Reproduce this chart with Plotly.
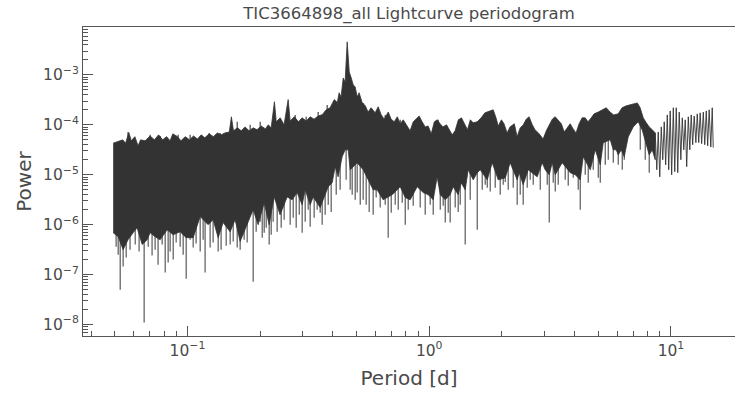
import plotly.graph_objects as go

# ---- data ----
title_text = "TIC3664898_all Lightcurve periodogram"

# upper envelope of the dense periodogram band: (period [d], power)
upper_envelope = [
    (0.0493, 4.3e-5), (0.0517, 4.6e-5), (0.054, 5.0e-5), (0.0555, 4.3e-5), (0.0572, 7.0e-5),
    (0.0586, 4.8e-5), (0.0606, 5.8e-5), (0.0625, 3.8e-5), (0.064, 5.0e-5), (0.0668, 4.8e-5),
    (0.0701, 6.0e-5), (0.073, 5.0e-5), (0.076, 6.3e-5), (0.079, 5.0e-5), (0.082, 5.8e-5),
    (0.0848, 4.8e-5), (0.087, 6.6e-5), (0.091, 5.8e-5), (0.094, 4.8e-5), (0.098, 5.8e-5),
    (0.102, 5.0e-5), (0.106, 6.0e-5), (0.110, 5.2e-5), (0.114, 6.3e-5), (0.118, 5.5e-5),
    (0.123, 6.6e-5), (0.128, 5.8e-5), (0.133, 6.9e-5), (0.138, 6.3e-5), (0.143, 6.9e-5),
    (0.149, 7.2e-5), (0.152, 1.45e-4), (0.155, 7.6e-5), (0.161, 8.7e-5), (0.167, 7.6e-5),
    (0.173, 9.1e-5), (0.180, 7.6e-5), (0.187, 8.7e-5), (0.194, 8.0e-5), (0.202, 9.5e-5),
    (0.210, 8.3e-5), (0.216, 1.0e-4), (0.222, 8.7e-5), (0.229, 2.9e-4), (0.233, 1.15e-4),
    (0.242, 1.38e-4), (0.251, 1.0e-4), (0.261, 3.2e-4), (0.266, 1.2e-4), (0.277, 1.45e-4),
    (0.288, 1.15e-4), (0.298, 1.38e-4), (0.310, 1.2e-4), (0.322, 1.45e-4), (0.334, 1.3e-4),
    (0.347, 1.5e-4), (0.361, 1.6e-4), (0.375, 2.0e-4), (0.389, 2.2e-4), (0.405, 3.2e-4),
    (0.417, 2.8e-4), (0.424, 4.4e-4), (0.432, 3.6e-4), (0.441, 8.7e-4), (0.449, 7.2e-4),
    (0.458, 4.6e-3), (0.467, 1.15e-3), (0.476, 8.7e-4), (0.485, 6.3e-4), (0.494, 5.8e-4),
    (0.504, 3.6e-4), (0.513, 4.4e-4), (0.528, 2.8e-4), (0.544, 2.4e-4), (0.559, 1.8e-4),
    (0.575, 2.2e-4), (0.598, 1.74e-4), (0.615, 2.3e-4), (0.633, 1.6e-4), (0.651, 1.3e-4),
    (0.677, 1.8e-4), (0.696, 1.3e-4), (0.717, 1.15e-4), (0.738, 1.45e-4), (0.759, 1.05e-4),
    (0.781, 1.26e-4), (0.811, 9.1e-5), (0.834, 7.6e-5), (0.859, 1.15e-4), (0.909, 1.5e-4),
    (0.935, 1.15e-4), (0.963, 9.1e-5), (0.99, 9.5e-5), (1.02, 6.6e-5), (1.05, 1.15e-4),
    (1.08, 1.26e-4), (1.11, 1.05e-4), (1.14, 9.1e-5), (1.18, 1.0e-4), (1.21, 8.0e-5),
    (1.245, 6.3e-5), (1.28, 7.6e-5), (1.32, 1.26e-4), (1.36, 1.38e-4), (1.40, 1.05e-4),
    (1.44, 8.0e-5), (1.48, 1.26e-4), (1.52, 1.1e-4), (1.58, 1.15e-4), (1.64, 1.38e-4),
    (1.70, 1.74e-4), (1.77, 1.9e-4), (1.84, 2.0e-4), (1.89, 1.38e-4), (1.93, 9.5e-5),
    (1.99, 1.26e-4), (2.04, 1.05e-4), (2.10, 6.9e-5), (2.16, 9.1e-5), (2.25, 1.05e-4),
    (2.31, 5.8e-5), (2.38, 8.7e-5), (2.45, 1.0e-4), (2.52, 1.3e-4), (2.59, 1.45e-4),
    (2.67, 1.0e-4), (2.74, 8.0e-5), (2.85, 6.6e-5), (2.96, 5.2e-5), (3.05, 7.6e-5),
    (3.14, 1.0e-4), (3.23, 1.3e-4), (3.32, 1.45e-4), (3.42, 1.26e-4), (3.52, 1.05e-4),
    (3.62, 7.2e-5), (3.73, 8.7e-5), (3.83, 1.05e-4), (3.94, 8.3e-5), (4.05, 6.9e-5),
    (4.17, 1.05e-4), (4.29, 1.38e-4), (4.42, 1.38e-4), (4.54, 1.15e-4), (4.68, 1.38e-4),
    (4.81, 1.66e-4), (5.0, 1.8e-4), (5.2, 2.0e-4), (5.4, 2.2e-4), (5.6, 1.8e-4),
    (5.8, 1.58e-4), (6.05, 1.66e-4), (6.28, 2.2e-4), (6.53, 2.4e-4), (6.79, 2.5e-4),
    (7.06, 2.6e-4), (7.26, 2.75e-4), (7.46, 2.2e-4), (7.68, 1.38e-4), (7.91, 1.1e-4),
    (8.13, 9.1e-5), (8.37, 8.0e-5), (8.61, 6.9e-5),
]

# lower edge of the dense band: (period [d], power)
lower_envelope = [
    (0.0493, 6.9e-7), (0.0517, 5.75e-7), (0.0542, 3.16e-7), (0.0568, 5.0e-7), (0.0596, 6.9e-7),
    (0.0619, 8.7e-7), (0.0650, 4.0e-7), (0.0681, 5.0e-7), (0.0701, 6.9e-7), (0.0735, 5.75e-7),
    (0.0771, 5.0e-7), (0.0824, 7.9e-7), (0.0873, 6.3e-7), (0.0933, 7.2e-7), (0.0988, 5.5e-7),
    (0.1056, 5.5e-7), (0.1129, 1.45e-6), (0.1218, 1.0e-6), (0.1277, 1.26e-6), (0.1340, 5.5e-7),
    (0.1405, 1.1e-6), (0.1502, 7.2e-7), (0.1575, 1.26e-6), (0.1652, 4.6e-7), (0.1766, 1.0e-6),
    (0.1870, 2.0e-6), (0.1961, 1.0e-6), (0.2077, 2.75e-6), (0.2178, 1.0e-6), (0.2284, 3.6e-6),
    (0.2417, 1.58e-6), (0.2585, 3.6e-6), (0.2711, 3.16e-6), (0.2843, 4.4e-6), (0.2982, 2.5e-6),
    (0.3069, 5.0e-6), (0.3218, 2.5e-6), (0.3312, 3.6e-6), (0.3540, 2.2e-6), (0.3712, 4.0e-6),
    (0.3822, 5.75e-6), (0.3969, 6.9e-6), (0.4084, 1.45e-5), (0.4201, 9.1e-6), (0.4365, 2.3e-5),
    (0.4492, 3.16e-5), (0.4623, 3.16e-5), (0.4711, 1.26e-5), (0.4802, 1.4e-5), (0.5036, 1.74e-5),
    (0.5332, 1.26e-5), (0.5595, 7.9e-6), (0.5864, 5.0e-6), (0.6092, 5.0e-6), (0.6451, 3.16e-6),
    (0.6765, 3.6e-6), (0.7030, 4.0e-6), (0.7586, 5.75e-6), (0.7959, 3.5e-6), (0.8346, 3.16e-6),
    (0.8920, 5.75e-6), (0.9445, 4.4e-6), (0.9905, 4.0e-6), (1.039, 3.16e-6), (1.079, 9.1e-6),
    (1.111, 4.0e-6), (1.165, 3.16e-6), (1.221, 4.0e-6), (1.257, 5.75e-6), (1.318, 4.0e-6),
    (1.356, 6.9e-6), (1.409, 5.0e-6), (1.450, 1.26e-5), (1.521, 7.9e-6), (1.580, 1.1e-5),
    (1.626, 1.26e-5), (1.738, 7.9e-6), (1.823, 1.74e-5), (1.930, 7.9e-6), (2.063, 8.7e-6),
    (2.163, 1.74e-5), (2.312, 7.9e-6), (2.357, 1.1e-5), (2.448, 6.3e-6), (2.568, 1.26e-5),
    (2.798, 9.1e-6), (2.935, 1.74e-5), (3.019, 1.26e-5), (3.137, 1.0e-5), (3.228, 1.74e-5),
    (3.322, 1.0e-5), (3.550, 1.74e-5), (3.832, 1.1e-5), (4.019, 1.0e-5), (4.215, 7.9e-6),
    (4.337, 2.3e-5), (4.637, 1.26e-5), (4.863, 3.16e-5), (5.100, 1.58e-5), (5.248, 4.4e-5),
    (5.610, 5.0e-5), (5.773, 3.16e-5), (5.940, 3.16e-5), (6.053, 2.5e-5), (6.229, 3.16e-5),
    (6.409, 2.3e-5), (6.659, 5.75e-5), (6.983, 9.1e-5), (7.324, 1.15e-4), (7.606, 7.9e-5),
    (7.827, 5.0e-5), (8.131, 2.5e-5), (8.367, 3.16e-5), (8.610, 2.0e-5),
]

# single-bin dips below the band: (period [d], level inside band, dip power)
dips = [
    (0.0527, 2e-6, 5.0e-8), (0.0542, 2e-6, 1.45e-7), (0.0662, 2e-6, 1.1e-8), (0.0756, 2e-6, 1.58e-7),
    (0.0809, 2e-6, 1.1e-7), (0.0873, 2e-6, 2.0e-7), (0.0988, 2e-6, 8.3e-8), (0.1056, 2e-6, 3.5e-7),
    (0.1183, 3e-6, 1.1e-7), (0.1340, 3e-6, 2.9e-7), (0.1502, 3e-6, 4.0e-7), (0.1652, 3e-6, 3.16e-7),
    (0.1870, 5e-6, 7.2e-8), (0.2077, 5e-6, 6.9e-7), (0.2178, 5e-6, 4.0e-7), (0.2350, 5e-6, 7.2e-7),
    (0.2982, 8e-6, 6.9e-7), (0.3218, 8e-6, 9.1e-7), (0.3540, 8e-6, 1.74e-6), (0.3712, 8e-6, 1.58e-6),
    (0.4711, 3e-5, 5.0e-6), (0.5036, 3e-5, 4.4e-6), (0.5332, 3e-5, 3.16e-6), (0.5864, 1e-5, 1.58e-6),
    (0.6765, 1e-5, 5.5e-7), (0.7959, 1e-5, 1.0e-6), (1.039, 1e-5, 1.58e-6), (1.165, 1e-5, 1.1e-6),
    (1.221, 1e-5, 1.1e-6), (1.318, 1e-5, 1.8e-6), (1.409, 1e-5, 4.0e-7), (1.580, 2e-5, 7.9e-7),
    (1.738, 2e-5, 5.5e-6), (2.063, 2e-5, 7.2e-6), (2.312, 2e-5, 2.5e-6), (2.448, 2e-5, 2.5e-6),
    (3.137, 2e-5, 1.1e-6), (3.322, 2e-5, 4.6e-6), (4.215, 2e-5, 2.0e-6), (5.100, 4e-5, 6.9e-6),
    (5.773, 5e-5, 1.74e-5), (6.053, 5e-5, 1.58e-5), (6.409, 5e-5, 2.0e-5), (8.131, 4e-5, 1.1e-5),
    # shallower dips along the lower edge
    (0.0507, 2e-6, 3.6e-7), (0.0517, 2e-6, 2.5e-7), (0.0558, 2e-6, 2.2e-7), (0.0579, 2e-6, 3.16e-7),
    (0.0608, 2e-6, 4.0e-7), (0.0631, 2e-6, 2.9e-7), (0.0688, 2e-6, 3.6e-7), (0.0714, 2e-6, 2.4e-7),
    (0.0735, 2e-6, 3.16e-7), (0.0786, 2e-6, 4.0e-7), (0.0832, 2e-6, 1.74e-7), (0.0848, 2e-6, 2.9e-7),
    (0.0898, 2e-6, 4.4e-7), (0.0933, 2e-6, 3.6e-7), (0.0960, 2e-6, 2.5e-7), (0.1026, 2e-6, 5.0e-7),
    (0.1086, 2e-6, 4.2e-7), (0.1129, 2e-6, 2.9e-7), (0.1161, 2e-6, 5.0e-7), (0.1241, 2e-6, 3.5e-7),
    (0.1277, 2e-6, 4.4e-7), (0.1378, 2e-6, 3.16e-7), (0.1446, 2e-6, 3.8e-7), (0.1546, 2e-6, 4.6e-7),
    (0.1606, 2e-6, 3.5e-7), (0.1716, 2e-6, 5.0e-7), (0.1766, 2e-6, 4.4e-7),
    (0.1924, 5e-6, 7.2e-7), (0.1999, 5e-6, 1.15e-6), (0.2038, 5e-6, 5.5e-7), (0.2117, 5e-6, 8.7e-7),
    (0.2220, 5e-6, 6.3e-7), (0.2262, 5e-6, 1.15e-6), (0.2442, 5e-6, 8.7e-7), (0.2512, 5e-6, 1.26e-6),
    (0.2660, 5e-6, 1.0e-6), (0.2738, 5e-6, 1.38e-6), (0.2817, 5e-6, 8.7e-7), (0.2900, 5e-6, 1.58e-6),
    (0.3069, 6e-6, 1.15e-6), (0.3158, 6e-6, 2.0e-6), (0.3343, 6e-6, 1.38e-6), (0.3440, 6e-6, 2.0e-6),
    (0.3608, 6e-6, 1.0e-6), (0.3822, 8e-6, 2.5e-6), (0.3931, 8e-6, 1.8e-6), (0.4124, 2e-5, 4.0e-6),
    (0.4281, 2e-5, 5.0e-6),
    (0.4533, 4e-5, 7.9e-6), (0.4802, 2e-5, 4.0e-6), (0.4941, 2e-5, 3.16e-6), (0.5184, 2e-5, 2.5e-6),
    (0.5487, 1e-5, 2.5e-6), (0.5646, 1e-5, 1.8e-6), (0.6034, 1e-5, 3.5e-6), (0.6269, 1e-5, 2.2e-6),
    (0.6576, 1e-5, 2.5e-6), (0.6964, 1e-5, 1.74e-6), (0.7234, 1e-5, 2.5e-6), (0.7444, 1e-5, 2.0e-6),
    (0.7733, 1e-5, 2.75e-6), (0.8188, 1e-5, 2.0e-6), (0.8587, 1e-5, 2.4e-6), (0.9178, 1e-5, 2.2e-6),
    (0.9626, 1e-5, 1.58e-6), (1.0096, 1e-5, 2.5e-6), (1.111, 1e-5, 2.0e-6), (1.1426, 1e-5, 2.4e-6),
    (1.1984, 1e-5, 1.74e-6), (1.2809, 1e-5, 2.2e-6), (1.3436, 1e-5, 2.5e-6), (1.4778, 1.5e-5, 3.16e-6),
    (1.6570, 2.5e-5, 5.0e-6), (1.7050, 2.5e-5, 6.3e-6), (1.7880, 2.5e-5, 4.6e-6), (1.8752, 2.5e-5, 5.5e-6),
    (1.9666, 2.5e-5, 4.0e-6), (2.0236, 2.5e-5, 6.3e-6), (2.1224, 2.5e-5, 5.0e-6), (2.2262, 2.5e-5, 5.5e-6),
    (2.3793, 2.5e-5, 4.0e-6), (2.5438, 2.5e-5, 5.5e-6), (2.6174, 2.5e-5, 7.9e-6), (2.6933, 2.5e-5, 6.3e-6),
    (2.8796, 2.5e-5, 5.0e-6), (3.0777, 2.5e-5, 6.3e-6), (3.2584, 2.5e-5, 6.9e-6), (3.4173, 2.5e-5, 6.3e-6),
    (3.6530, 2.5e-5, 7.9e-6), (3.7589, 2.5e-5, 6.0e-6), (3.9423, 2.5e-5, 8.7e-6), (4.1346, 2.5e-5, 5.0e-6),
    (4.4197, 3e-5, 1.0e-5), (4.5480, 3e-5, 6.9e-6), (4.7702, 4e-5, 1.26e-5), (5.004, 4e-5, 8.7e-6),
    (5.3485, 6e-5, 1.58e-5), (5.5035, 6e-5, 2.0e-5), (6.2880, 6e-5, 1.26e-5), (7.4645, 1.2e-4, 3.16e-5),
    (7.8282, 6e-5, 2.0e-5),
]

# single-bin spikes above the band: (period [d], level inside band, spike power)
spikes = [
    (0.0568, 3e-5, 7.2e-5), (0.0701, 3e-5, 6.3e-5), (0.0771, 3e-5, 6.0e-5), (0.0915, 3e-5, 6.3e-5),
    (0.1026, 3e-5, 6.3e-5), (0.1230, 3e-5, 6.9e-5), (0.1365, 3e-5, 6.9e-5), (0.1606, 3e-5, 1.15e-4),
    (0.1817, 3e-5, 1.0e-4), (0.1999, 3e-5, 1.15e-4), (0.2790, 3e-5, 1.58e-4), (0.3098, 3e-5, 1.45e-4),
    (0.3473, 3e-5, 1.8e-4), (0.3784, 3e-5, 2.5e-4), (0.5332, 3e-5, 2.75e-4), (0.6576, 3e-5, 1.58e-4),
    (0.7586, 3e-5, 1.26e-4), (1.089, 3e-5, 1.26e-4),
]

# long-period tail, where individual oscillations are resolved
tail_period = [8.61, 8.74, 8.86, 8.99, 9.12, 9.25, 9.38, 9.51, 9.66, 9.79, 9.93, 10.07, 10.23,
               10.37, 10.52, 10.67, 10.82, 10.99, 11.14, 11.30, 11.46, 11.62, 11.80, 11.97,
               12.13, 12.30, 12.48, 12.68, 12.85, 13.03, 13.21, 13.40, 13.61, 13.80, 14.00,
               14.19, 14.39, 14.62, 14.82, 14.96]
tail_power = [6.9e-5, 1.26e-5, 7.2e-5, 9.1e-6, 9.1e-5, 2.0e-5, 1.15e-4, 1.58e-5, 1.58e-4, 1.26e-5,
              1.9e-4, 1.0e-5, 2.2e-4, 1.15e-5, 2.2e-4, 1.1e-5, 1.8e-4, 2.0e-5, 1.38e-4, 3.16e-5,
              1.26e-4, 1.45e-5, 1.45e-4, 3.16e-5, 1.58e-4, 4.0e-5, 1.5e-4, 4.4e-5, 1.66e-4, 4.4e-5,
              1.74e-4, 4.2e-5, 1.8e-4, 4.0e-5, 1.9e-4, 3.8e-5, 2.0e-4, 3.6e-5, 2.2e-4, 3.5e-5]

x_tick_vals = [0.1, 1, 10]
x_tick_text = ["10<sup>\u22121</sup>", "10<sup>0</sup>", "10<sup>1</sup>"]
y_tick_vals = [1e-8, 1e-7, 1e-6, 1e-5, 1e-4, 1e-3]
y_tick_text = ["10<sup>\u22128</sup>", "10<sup>\u22127</sup>", "10<sup>\u22126</sup>",
               "10<sup>\u22125</sup>", "10<sup>\u22124</sup>", "10<sup>\u22123</sup>"]
x_minor_vals = [m * 10.0 ** e for e in (-2, -1, 0, 1) for m in range(2, 10)]
y_minor_vals = [m * 10.0 ** e for e in range(-9, -1) for m in range(2, 10)]

# ---- figure ----
LINE = "#333333"
AX = "#555555"
TXT = "#4a4a4a"

up_p = [p for p, _ in upper_envelope]
up_v = [v for _, v in upper_envelope]
lo_p = [p for p, _ in lower_envelope]
lo_v = [v for _, v in lower_envelope]


def segments(rows):
    xs, ys = [], []
    for p, a, b in rows:
        xs += [p, p, None]
        ys += [a, b, None]
    return xs, ys


fig = go.Figure()
# single-bin excursions first, so the band covers their inner parts
dx, dy = segments(dips)
fig.add_trace(go.Scatter(x=dx, y=dy, mode="lines",
                         line=dict(color="#4a4a4a", width=1.1), hoverinfo="skip"))
sx, sy = segments(spikes)
fig.add_trace(go.Scatter(x=sx, y=sy, mode="lines",
                         line=dict(color=LINE, width=1.1), hoverinfo="skip"))

fig.add_trace(go.Scatter(
    x=up_p + lo_p[::-1], y=up_v + lo_v[::-1],
    mode="lines", fill="toself", fillcolor=LINE,
    line=dict(color=LINE, width=0.8), hoverinfo="skip"))

fig.add_trace(go.Scatter(x=tail_period, y=tail_power, mode="lines",
                         line=dict(color=LINE, width=0.9), hoverinfo="skip"))

fig.update_layout(
    width=735, height=393,
    margin=dict(l=83, r=0, t=27, b=57),
    paper_bgcolor="white", plot_bgcolor="white",
    showlegend=False,
    font=dict(family="DejaVu Sans", color=TXT),
    title=dict(text=title_text, x=0.5565, xanchor="center",
               y=1 - 13.5 / 393, yanchor="middle", yref="container",
               font=dict(size=16.5, color=TXT)),
)
fig.update_xaxes(
    type="log", range=[-1.432, 1.265],
    showline=True, linecolor=AX, linewidth=1.2, mirror=True,
    showgrid=False, zeroline=False,
    tickmode="array", tickvals=x_tick_vals, ticktext=x_tick_text,
    ticks="inside", ticklen=10, tickwidth=1.2, tickcolor=AX,
    tickfont=dict(size=15.5, color=TXT),
    minor=dict(tickmode="array", tickvals=x_minor_vals, ticks="inside",
               ticklen=5, tickwidth=1, tickcolor=AX, showgrid=False),
    title=dict(text="Period [d]", font=dict(size=20, color=TXT), standoff=12),
)
fig.update_yaxes(
    type="log", range=[-8.23, -2.04],
    showline=True, linecolor=AX, linewidth=1.2,
    showgrid=False, zeroline=False,
    tickmode="array", tickvals=y_tick_vals, ticktext=y_tick_text,
    ticks="inside", ticklen=10, tickwidth=1.2, tickcolor=AX,
    tickfont=dict(size=15.5, color=TXT),
    minor=dict(tickmode="array", tickvals=y_minor_vals, ticks="inside",
               ticklen=5, tickwidth=1, tickcolor=AX, showgrid=False),
    title=dict(text="Power", font=dict(size=20, color=TXT), standoff=6),
)

fig.write_html("out.html")
